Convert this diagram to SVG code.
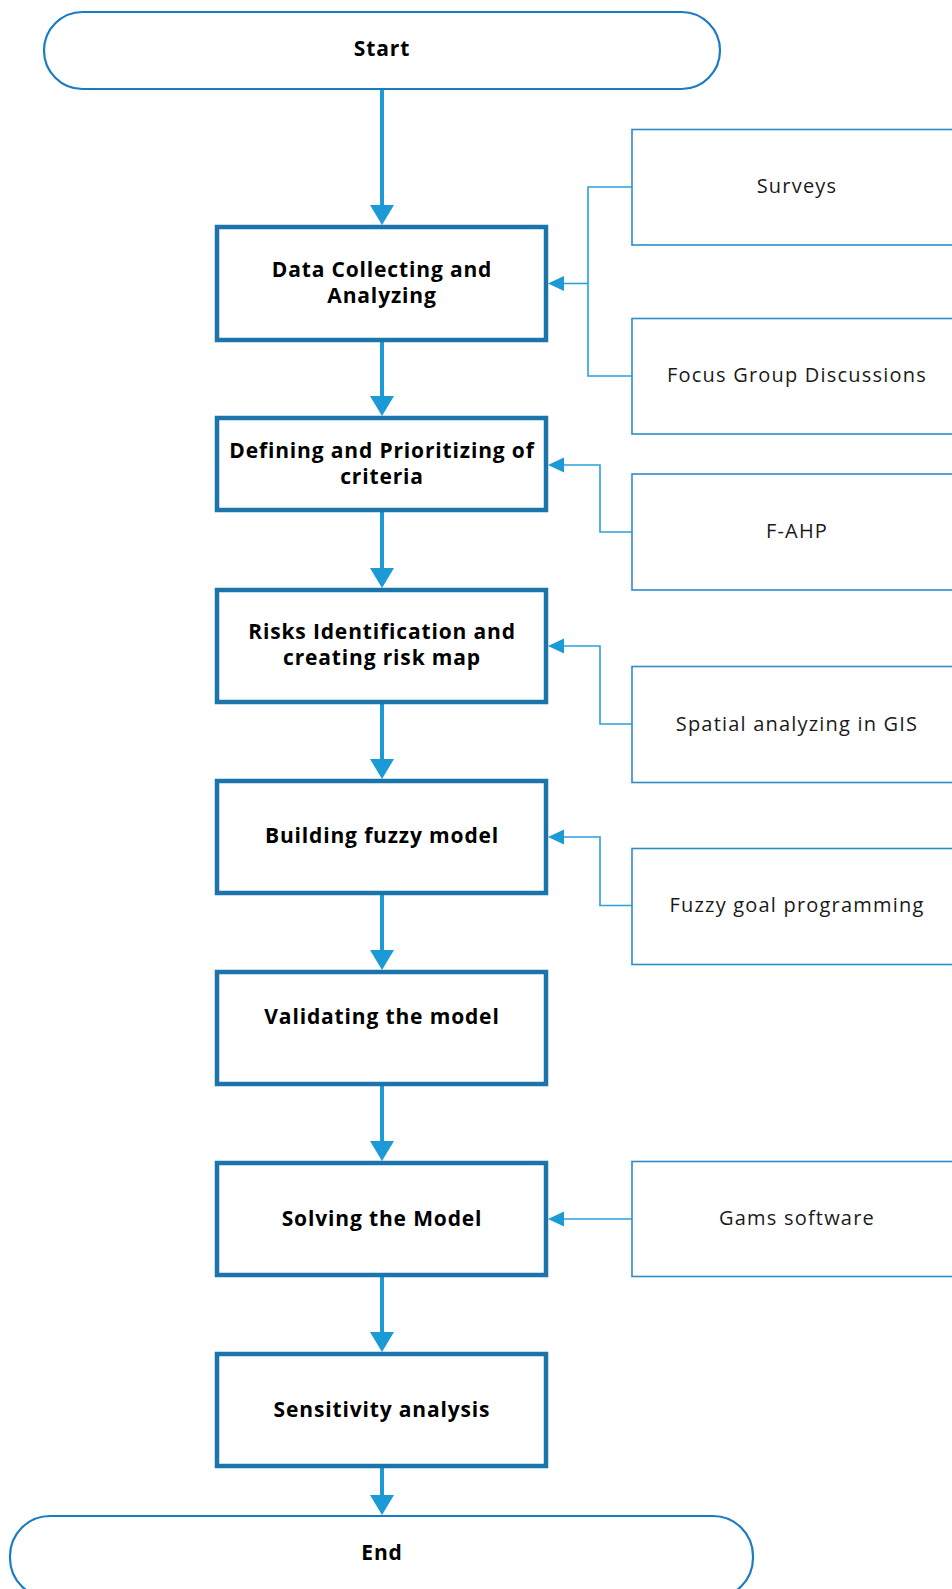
<svg xmlns="http://www.w3.org/2000/svg" width="952" height="1589" viewBox="0 0 952 1589">
<defs>
<style>
.term{fill:#fff;stroke:#1a7cc4;stroke-width:2.2}
.main{fill:#fff;stroke:#1b75aa;stroke-width:4.5}
.side{fill:#fff;stroke:#2e8cc6;stroke-width:1.6}
.tb{font-family:"Open Sans","Noto Sans",sans-serif;font-weight:bold;font-size:21px;letter-spacing:0.85px;fill:#000;text-anchor:middle}
.tr{font-family:"Open Sans","Noto Sans",sans-serif;font-size:20px;letter-spacing:1.2px;fill:#1a1a1a;text-anchor:middle}
.flow{stroke:#1b9ad6;stroke-width:4;fill:none}
.feed{stroke:#2aa0dc;stroke-width:1.6;fill:none}
.ah{fill:#1b9ad6}
</style>
</defs>
<g id="connectors">
<line class="flow" x1="382" y1="89" x2="382" y2="206"/>
<polygon class="ah" points="370,205 394,205 382,225"/>
<line class="flow" x1="382" y1="342" x2="382" y2="397"/>
<polygon class="ah" points="370,396 394,396 382,416"/>
<line class="flow" x1="382" y1="512" x2="382" y2="569"/>
<polygon class="ah" points="370,568 394,568 382,588"/>
<line class="flow" x1="382" y1="704" x2="382" y2="760"/>
<polygon class="ah" points="370,759 394,759 382,779"/>
<line class="flow" x1="382" y1="895" x2="382" y2="951"/>
<polygon class="ah" points="370,950 394,950 382,970"/>
<line class="flow" x1="382" y1="1086" x2="382" y2="1142"/>
<polygon class="ah" points="370,1141 394,1141 382,1161"/>
<line class="flow" x1="382" y1="1277" x2="382" y2="1333"/>
<polygon class="ah" points="370,1332 394,1332 382,1352"/>
<line class="flow" x1="382" y1="1468" x2="382" y2="1496"/>
<polygon class="ah" points="370,1495 394,1495 382,1515"/>
<polyline class="feed" points="632,187 588,187 588,376 632,376"/>
<line class="feed" x1="588" y1="283.5" x2="562" y2="283.5"/>
<polygon class="ah" points="564,276 564,291 548,283.5"/>
<polyline class="feed" points="632,532 600,532 600,465 562,465"/>
<polygon class="ah" points="564,457.5 564,472.5 548,465"/>
<polyline class="feed" points="632,724 600,724 600,646 562,646"/>
<polygon class="ah" points="564,638.5 564,653.5 548,646"/>
<polyline class="feed" points="632,905.5 600,905.5 600,837 562,837"/>
<polygon class="ah" points="564,829.5 564,844.5 548,837"/>
<line class="feed" x1="632" y1="1219" x2="562" y2="1219"/>
<polygon class="ah" points="564,1211.5 564,1226.5 548,1219"/>
</g>
<g id="start">
<rect class="term" x="44" y="12" width="676" height="77" rx="38.5" ry="38.5"/>
<text class="tb" x="382" y="56">Start</text>
</g>
<g id="data-collecting">
<rect class="main" x="217" y="227" width="329" height="113"/>
<text class="tb" x="382" y="277">Data Collecting and</text>
<text class="tb" x="382" y="303">Analyzing</text>
</g>
<g id="defining">
<rect class="main" x="217" y="418" width="329" height="92"/>
<text class="tb" x="382" y="458">Defining and Prioritizing of</text>
<text class="tb" x="382" y="484">criteria</text>
</g>
<g id="risks">
<rect class="main" x="217" y="590" width="329" height="112"/>
<text class="tb" x="382" y="639">Risks Identification and</text>
<text class="tb" x="382" y="665">creating risk map</text>
</g>
<g id="building">
<rect class="main" x="217" y="781" width="329" height="112"/>
<text class="tb" x="382" y="843">Building fuzzy model</text>
</g>
<g id="validating">
<rect class="main" x="217" y="972" width="329" height="112"/>
<text class="tb" x="382" y="1024">Validating the model</text>
</g>
<g id="solving">
<rect class="main" x="217" y="1163" width="329" height="112"/>
<text class="tb" x="382" y="1226">Solving the Model</text>
</g>
<g id="sensitivity">
<rect class="main" x="217" y="1354" width="329" height="112"/>
<text class="tb" x="382" y="1417">Sensitivity analysis</text>
</g>
<g id="end">
<rect class="term" x="10" y="1516" width="743" height="82" rx="40" ry="40"/>
<text class="tb" x="382" y="1560">End</text>
</g>
<g id="surveys">
<rect class="side" x="632" y="129.5" width="332" height="115.5"/>
<text class="tr" x="797" y="193">Surveys</text>
</g>
<g id="focus-group">
<rect class="side" x="632" y="318.5" width="332" height="115.5"/>
<text class="tr" x="797" y="382">Focus Group Discussions</text>
</g>
<g id="f-ahp">
<rect class="side" x="632" y="474" width="332" height="116"/>
<text class="tr" x="797" y="538">F-AHP</text>
</g>
<g id="spatial">
<rect class="side" x="632" y="666.5" width="332" height="116"/>
<text class="tr" x="797" y="731">Spatial analyzing in GIS</text>
</g>
<g id="fuzzy-goal">
<rect class="side" x="632" y="848.5" width="332" height="116"/>
<text class="tr" x="797" y="912">Fuzzy goal programming</text>
</g>
<g id="gams">
<rect class="side" x="632" y="1161.5" width="332" height="115"/>
<text class="tr" x="797" y="1225">Gams software</text>
</g>
</svg>
